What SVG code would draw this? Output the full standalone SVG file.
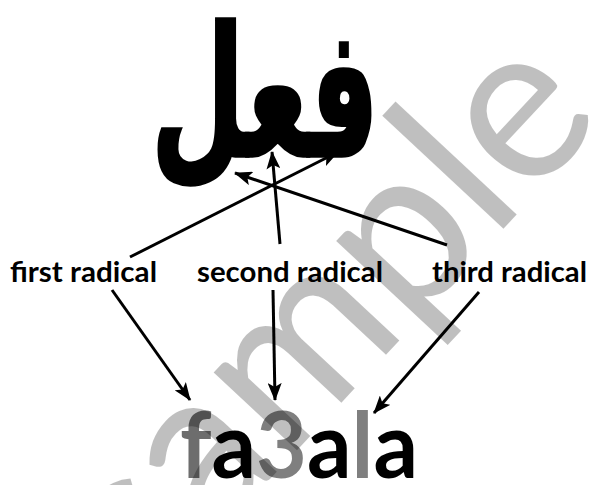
<svg xmlns="http://www.w3.org/2000/svg" width="590" height="485" viewBox="0 0 590 485">
<defs>
<style>
.lbl{font-family:Lato,"Open Sans","Liberation Sans",sans-serif;font-weight:bold;font-size:29px;fill:#000}
.big{font-family:Lato,"Open Sans","Liberation Sans",sans-serif;font-weight:bold;font-size:92px}
.ar{font-family:"DejaVu Sans",sans-serif;font-weight:bold;font-size:150px;fill:#000}
.con{stroke:#000;stroke-width:3;fill:none;marker-end:url(#ah)}
.wm{font-family:Lato,"Open Sans","Liberation Sans",sans-serif;font-size:225px;fill:#000;fill-opacity:0.25}
</style>
<marker id="ah" markerUnits="userSpaceOnUse" markerWidth="18" markerHeight="14" viewBox="0 0 18 14" refX="17" refY="7" orient="auto">
<path d="M0,0 L18,7 L0,14 L4,7 Z" fill="#000"/>
</marker>
</defs>
<rect width="590" height="485" fill="#fff"/>
<g id="node-arabic"><text class="ar" x="0" y="140" text-anchor="middle" direction="rtl" stroke="#000" stroke-width="3" transform="matrix(0.72 0 0 1.2 265 -12)">فعل</text></g>
<g id="node-first"><text class="lbl" x="10" y="282" textLength="147" lengthAdjust="spacingAndGlyphs">first radical</text></g>
<g id="node-second"><text class="lbl" x="197" y="282" textLength="186" lengthAdjust="spacingAndGlyphs">second radical</text></g>
<g id="node-third"><text class="lbl" x="432" y="282" textLength="155" lengthAdjust="spacingAndGlyphs">third radical</text></g>
<g id="node-fa3ala"><text class="big" x="180" y="478" textLength="238" lengthAdjust="spacingAndGlyphs"><tspan fill="#6d6d6d">f</tspan><tspan fill="#000">a</tspan><tspan fill="#7f7f7f">3</tspan><tspan fill="#000">a</tspan><tspan fill="#7f7f7f">l</tspan><tspan fill="#000">a</tspan></text></g>
<g id="connectors">
<line class="con" x1="130" y1="257" x2="338" y2="152"/>
<line class="con" x1="280" y1="244" x2="272" y2="152"/>
<line class="con" x1="447" y1="245" x2="235" y2="173"/>
<line class="con" x1="112" y1="290" x2="190" y2="400"/>
<line class="con" x1="273" y1="290" x2="275" y2="400"/>
<line class="con" x1="479" y1="292" x2="374" y2="413"/>
</g>
<g id="watermark"><text class="wm" transform="translate(148,610) rotate(-47)" textLength="672" lengthAdjust="spacingAndGlyphs">sample</text></g>
</svg>
